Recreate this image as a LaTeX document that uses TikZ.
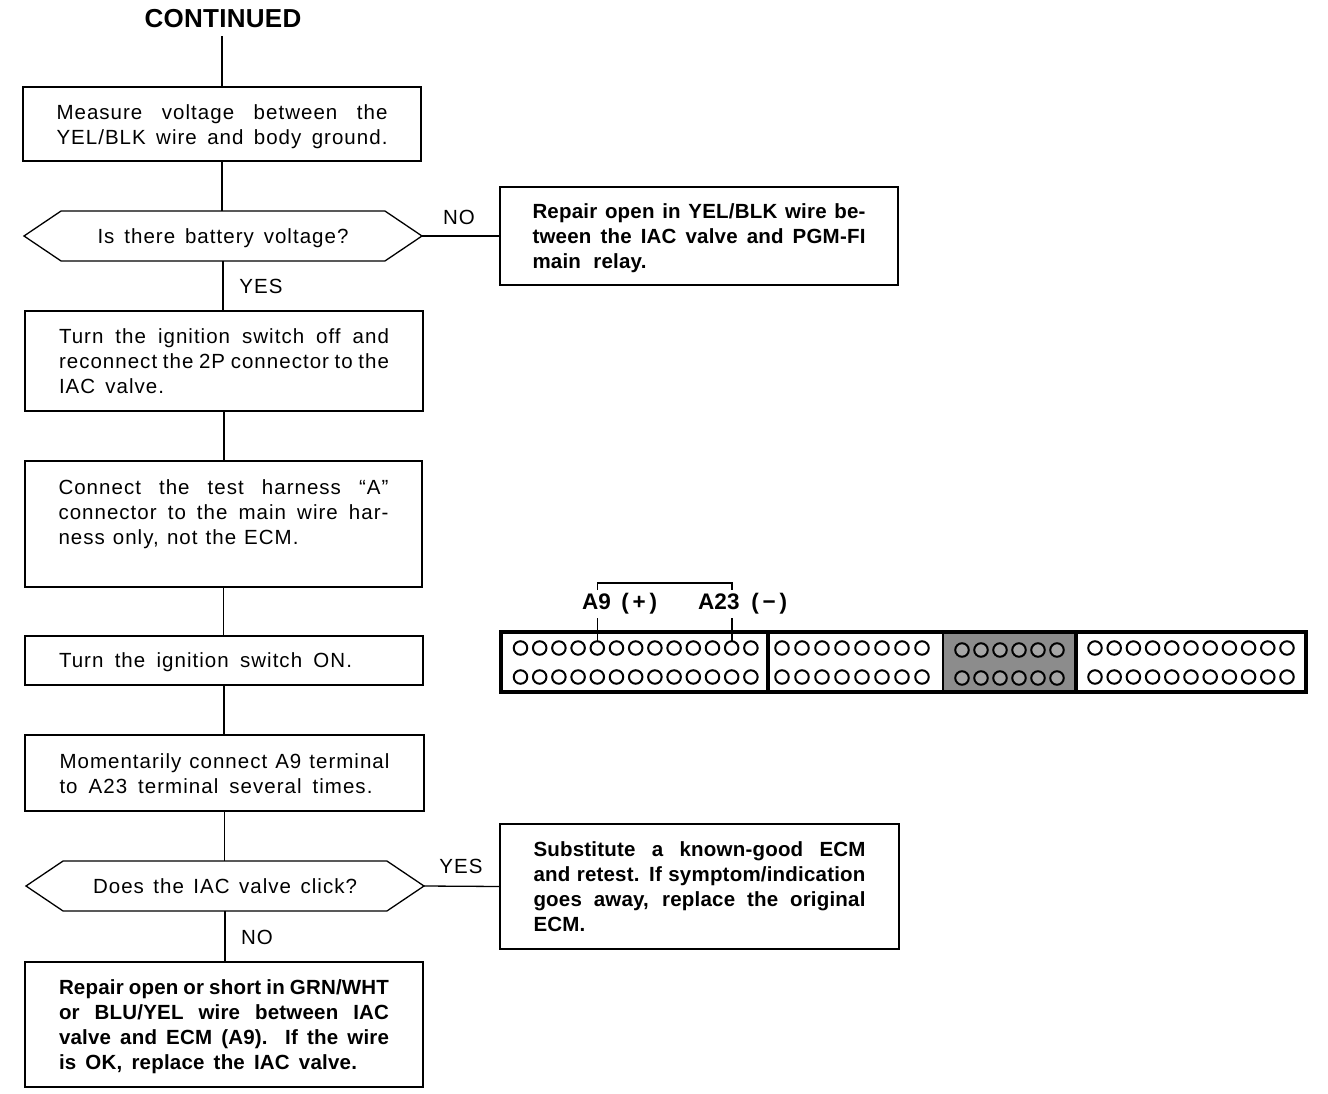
\documentclass[tikz,border=0pt]{standalone}
\usepackage{fontspec}
\setmainfont{Liberation Sans}[LetterSpace=5,BoldFeatures={LetterSpace=1}]
\usetikzlibrary{shapes.symbols}
\newcommand{\jl}[2]{\makebox[#1pt][s]{#2}}
\newcommand{\jr}[3]{\makebox[#2pt][l]{\jl{#1}{#3}}}
\newcommand{\tp}[1]{\rule{0pt}{\dimexpr 15pt+#1pt+#1pt\relax}}
\tikzset{
  x=1pt,y=-1pt,
  flowbox/.style={draw,line width=1.3pt,inner sep=0pt,outer sep=0pt,align=left,font=\fontsize{20.5}{25}\selectfont},
  boldbox/.style={flowbox,font=\fontsize{20.5}{25}\bfseries\selectfont},
  deci/.style={draw,line width=1.3pt,signal,signal to=west and east,signal pointer angle=68,inner sep=0pt,outer sep=0pt,minimum height=50pt,font=\fontsize{20.5}{25}\selectfont},
  lbl/.style={inner sep=0pt,font=\fontsize{20.5}{25}\selectfont},
  conn/.style={line width=1.3pt},
  hole/.style={circle,draw,line width=2pt,fill=white,minimum size=13.5pt,inner sep=0pt,outer sep=0pt},
  ghole/.style={hole,fill=black!35},
  pinlabel/.style={inner sep=0pt,font=\fontsize{22.5}{25}\bfseries\selectfont},
  housing/.style={line width=3.6pt}
}
\begin{document}
\begin{tikzpicture}
\useasboundingbox (0,0) rectangle (1328,1094);
\node[inner sep=0pt,font=\fontsize{26}{30}\bfseries\selectfont] (cont) at (223,19) {CONTINUED};
\node[flowbox,minimum width=398pt,minimum height=74pt] (b1) at (222,124) {\tp{3}\jl{331}{Measure voltage between the}\\\jl{331}{YEL/BLK wire and body ground.}};
\node[deci,minimum width=398pt] (d1) at (223,236) {\tp{2}\jl{251}{Is there battery voltage?}};
\node[boldbox,minimum width=398pt,minimum height=98pt] (r1) at (699,236) {\tp{2}\jl{333}{Repair open in YEL/BLK wire be-}\\\jl{333}{tween the IAC valve and PGM-FI}\\\jr{114}{333}{main relay.}};
\node[flowbox,minimum width=398pt,minimum height=100pt] (b2) at (224,361) {\jl{330}{Turn the ignition switch off and}\\\jl{330}{reconnect the 2P connector to the}\\\jr{105}{330}{IAC valve.}};
\node[flowbox,minimum width=397pt,minimum height=126pt] (b3) at (223.5,524) {\tp{4}\jl{330}{Connect the test harness ``A''}\\\jl{330}{connector to the main wire har-}\\\jr{240}{330}{ness only, not the ECM.}\\\strut};
\node[flowbox,minimum width=398pt,minimum height=49pt] (b4) at (224,660.5) {\tp{2}\jr{293}{330}{Turn the ignition switch ON.}};
\node[flowbox,minimum width=399pt,minimum height=76pt] (b5) at (224.5,773) {\tp{1}\jl{330}{Momentarily connect A9 terminal}\\\jr{313}{330}{to A23 terminal several times.}};
\node[deci,minimum width=398pt] (d2) at (225,886) {\jl{264}{Does the IAC valve click?}};
\node[boldbox,minimum width=399pt,minimum height=125pt] (r2) at (699.5,886.5) {\jl{332}{Substitute a known-good ECM}\\\jl{332}{and retest. If symptom/indication}\\\jl{332}{goes away, replace the original}\\\jr{55}{332}{ECM.}};
\node[boldbox,minimum width=398pt,minimum height=125pt] (b6) at (224,1024.5) {\tp{2}\jl{330}{Repair open or short in GRN/WHT}\\\jl{330}{or BLU/YEL wire between IAC}\\\jl{330}{valve and ECM (A9). If the wire}\\\jr{298}{330}{is OK, replace the IAC valve.}};
\node[lbl] (no1) at (459,217) {NO};
\node[lbl] (yes1) at (261,286) {YES};
\node[lbl] (yes2) at (461,866) {YES};
\node[lbl] (no2) at (257,937) {NO};
\draw[conn] (cont.south -| b1.north) ++(0,8) -- (b1.north);
\draw[conn] (b1.south) -- (b1.south |- d1.north);
\draw[conn] (d1.south) -- (d1.south |- b2.north);
\draw[conn] (b2.south) -- (b2.south |- b3.north);
\draw[conn] (b3.south) -- (b3.south |- b4.north);
\draw[conn] (b4.south) -- (b4.south |- b5.north);
\draw[conn] (b5.south) -- (b5.south |- d2.north);
\draw[conn] (d2.south) -- (d2.south |- b6.north);
\draw[conn] (d1.east) -- (r1.west);
\draw[conn] (d2.east) -- (r2.west);
% ECM connector
\fill[black!45] (943,632) rectangle (1076,692);
\draw[housing] (501,632) rectangle (1306,692);
\draw[housing] (768,632) -- (768,692) (1076,632) -- (1076,692);
\draw[line width=1.5pt] (943,632) -- (943,692);
\foreach \r/\yy in {1/648,2/677}{
  \foreach \i in {0,...,12}{\node[hole] (a\r-\i) at ({520.5+19.2*\i},\yy) {};}
  \foreach \i in {0,...,7}{\node[hole] (c\r-\i) at ({782+20*\i},\yy) {};}
  \foreach \i in {0,...,10}{\node[hole] (f\r-\i) at ({1095+19.2*\i},\yy) {};}
}
\foreach \r/\yy in {1/650,2/678}{
  \foreach \i in {0,...,5}{\node[ghole] (e\r-\i) at ({962+19*\i},\yy) {};}
}
\node[pinlabel] (a9) at (619.5,604) {\jl{75}{A9 (\,+\,)}};
\node[pinlabel] (a23) at (742.5,604) {\jl{89}{A23 (\,−\,)}};
\coordinate (pa) at (a1-4 |- 0,618);
\coordinate (pb) at (a1-11 |- 0,618);
\draw[line width=1.6pt] (pa) -- (a1-4.north);
\draw[line width=1.6pt] (pb) -- (a1-11.north);
\coordinate (ba) at (a1-4 |- 0,590);
\coordinate (bb) at (a1-11 |- 0,590);
\draw[line width=1.6pt] (ba) -- ++(0,-7) -| (bb);
\end{tikzpicture}
\end{document}
